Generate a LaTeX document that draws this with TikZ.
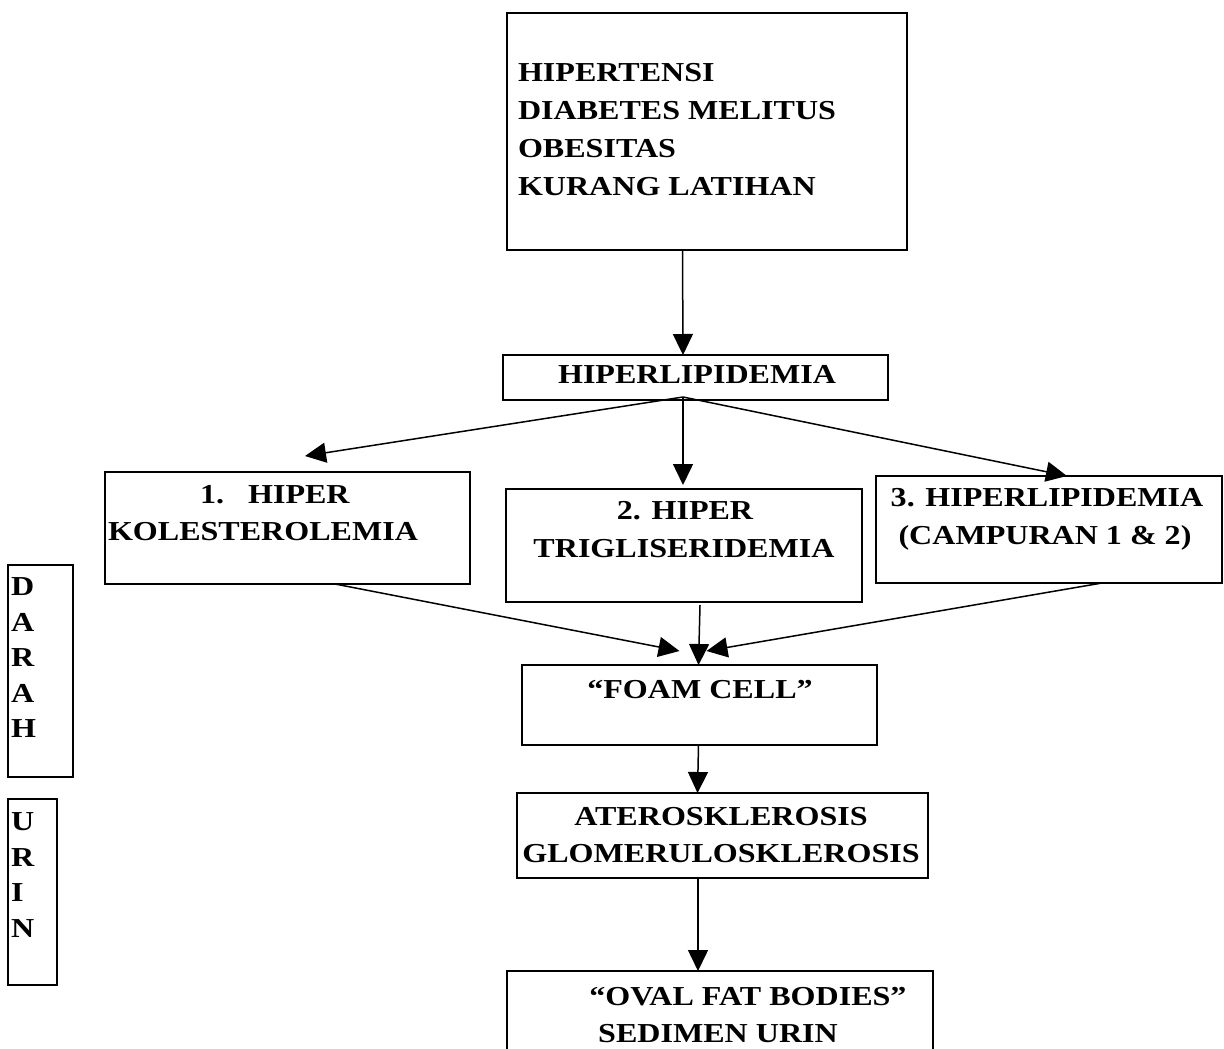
\documentclass[tikz,border=0pt]{standalone}
\usepackage{fontspec}
\usetikzlibrary{arrows.meta,calc}
\newfontfamily\tf[FakeStretch=1.17]{Liberation Serif}
\begin{document}
\begin{tikzpicture}[x=0.5pt,y=-0.5pt,
  box/.style={draw,line width=1pt,inner sep=0pt,outer sep=0pt},
  lbl/.style={font=\tf\bfseries\fontsize{13.7}{19}\selectfont,inner sep=0pt,outer sep=0pt},
  vlbl/.style={font=\tf\bfseries\fontsize{13.7}{17.75}\selectfont,inner sep=0pt,outer sep=0pt,align=left},
  arr/.style={line width=0.75pt,-{Triangle[length=10.5pt,width=10pt]}}]
\clip (0,0) rectangle (1224,1048);
\fill[white] (0,0) rectangle (1224,1048);
% boxes
\node[box,minimum width=200pt,minimum height=118.5pt] (top) at (707,131.5) {};
\node[box,minimum width=192.5pt,minimum height=22.5pt] (hl) at (695.5,377.5) {};
\node[box,minimum width=182.5pt,minimum height=56pt] (b1) at (287.5,528) {};
\node[box,minimum width=178pt,minimum height=56.5pt] (b2) at (684,545.5) {};
\node[box,minimum width=173pt,minimum height=53.5pt] (b3) at (1049,529.5) {};
\node[box,minimum width=177.5pt,minimum height=40pt] (foam) at (699.5,705) {};
\node[box,minimum width=205.5pt,minimum height=42.5pt] (ath) at (722.5,835.5) {};
\node[box,minimum width=213pt,minimum height=54.5pt] (oval) at (720,1025.5) {};
\node[box,minimum width=32.5pt,minimum height=106pt] (darah) at (40.5,671) {};
\node[box,minimum width=24.5pt,minimum height=93pt] (urin) at (32.5,892) {};
% texts
\node[lbl,anchor=north west,align=left] (toptxt) at (518,63)
  {HIPERTENSI\\DIABETES MELITUS\\OBESITAS\\KURANG LATIHAN};
\node[lbl,anchor=base] (hltxt) at (697,383) {HIPERLIPIDEMIA};
\node[lbl,anchor=base west] (b1a) at (200,503) {1.\ \ \ HIPER};
\node[lbl,anchor=base west] (b1b) at (108,540) {KOLESTEROLEMIA};
\node[lbl,anchor=base] (b2a) at (685,519) {2. HIPER};
\node[lbl,anchor=base] (b2b) at (684,557) {TRIGLISERIDEMIA};
\node[lbl,anchor=base] (b3a) at (1047,506) {3. HIPERLIPIDEMIA};
\node[lbl,anchor=base] (b3b) at (1045,544) {(CAMPURAN 1 \& 2)};
\node[lbl,anchor=base] (foamtxt) at (700,698) {“FOAM CELL”};
\node[lbl,anchor=base] (atha) at (721,825) {ATEROSKLEROSIS};
\node[lbl,anchor=base] (athb) at (721,862) {GLOMERULOSKLEROSIS};
\node[lbl,anchor=base] (ovala) at (748,1005) {“OVAL FAT BODIES”};
\node[lbl,anchor=base] (ovalb) at (718,1042) {SEDIMEN URIN};
\node[vlbl,anchor=north west] (darahtxt) at (11,578) {D\\A\\R\\A\\H};
\node[vlbl,anchor=north west] (urintxt) at (11,813) {U\\R\\I\\N};
% connectors
\draw[arr] ([xshift=-12.25pt]top.south) -- ([xshift=-6.25pt]hl.north);
\draw[arr] ([xshift=-6.25pt,yshift=1.5pt]hl.south) -- ([xshift=8.75pt,yshift=8pt]b1.north);
\draw[arr] ([xshift=-6.25pt,yshift=1.5pt]hl.south) -- ([xshift=-0.5pt,yshift=2pt]b2.north);
\draw[arr] ([xshift=-6.25pt,yshift=1.5pt]hl.south) -- ([xshift=9pt]b3.north);
\draw[arr] ([xshift=23.75pt]b1.south) -- ([xshift=-10pt,yshift=7pt]foam.north);
\draw[arr] ([xshift=8pt,yshift=-1.5pt]b2.south) -- ([xshift=-0.5pt]foam.north);
\draw[arr] ([xshift=26.5pt]b3.south) -- ([xshift=3.5pt,yshift=7pt]foam.north);
\draw[arr] ([xshift=-0.5pt]foam.south) -- ([xshift=-12.5pt]ath.north);
\draw[arr] ([xshift=-12.25pt]ath.south) -- ([xshift=-11pt]oval.north);
\end{tikzpicture}
\end{document}
